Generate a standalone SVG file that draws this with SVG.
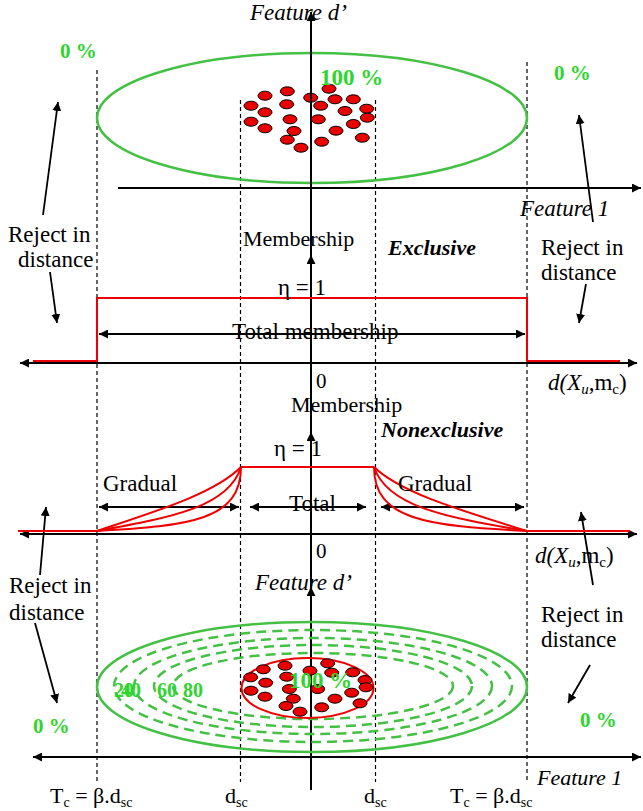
<svg xmlns="http://www.w3.org/2000/svg" width="643" height="811" viewBox="0 0 643 811">
<defs>
<marker id="ah" viewBox="0 0 10 10" refX="10" refY="5" markerWidth="9" markerHeight="9" markerUnits="userSpaceOnUse" orient="auto-start-reverse">
<path d="M0,0 L10,5 L0,10 z" fill="#000"/>
</marker>
<ellipse id="dot" rx="7" ry="4.5" fill="#e80000" stroke="#000" stroke-width="1"/>
</defs>
<style>
text{font-family:'Liberation Serif','DejaVu Serif',serif;fill:#000}
.it{font-style:italic}
.g{fill:#2ed52e;font-weight:bold}
.ax{stroke:#000;stroke-width:2;fill:none}
.ar{stroke:#000;stroke-width:1.8;fill:none}
.dash{stroke:#000;stroke-width:1.2;stroke-dasharray:4,3;fill:none}
.red{stroke:#ee0000;stroke-width:2;fill:none}
.gr{stroke:#44c044;stroke-width:2.5;fill:none}
.grd{stroke:#44c044;stroke-width:2.5;fill:none;stroke-dasharray:10,6}
</style>
<rect width="643" height="811" fill="#fff"/>

<g id="guides">
<line class="dash" x1="97" y1="70" x2="97" y2="783"/>
<line class="dash" x1="240.5" y1="100" x2="240.5" y2="782"/>
<line class="dash" x1="375.5" y1="100" x2="375.5" y2="782"/>
<line class="dash" x1="527" y1="62" x2="527" y2="783"/>
</g>

<g id="top-cluster">
<ellipse class="gr" cx="312" cy="118" rx="215" ry="65"/>
<g id="top-dots">
<use href="#dot" x="265" y="95.7"/><use href="#dot" x="287.3" y="91.3"/><use href="#dot" x="310.7" y="97.7"/><use href="#dot" x="329" y="88.7"/><use href="#dot" x="335" y="99.3"/><use href="#dot" x="353.3" y="99.3"/><use href="#dot" x="251" y="105.7"/><use href="#dot" x="265" y="112.3"/><use href="#dot" x="286.7" y="104.3"/><use href="#dot" x="320.7" y="105.7"/><use href="#dot" x="345" y="111"/><use href="#dot" x="366.7" y="108.7"/><use href="#dot" x="251" y="121.7"/><use href="#dot" x="265" y="128.3"/><use href="#dot" x="290" y="119.3"/><use href="#dot" x="318.3" y="119.3"/><use href="#dot" x="353.3" y="124"/><use href="#dot" x="367.3" y="117.7"/><use href="#dot" x="294" y="131"/><use href="#dot" x="336" y="130.7"/><use href="#dot" x="287.3" y="139.7"/><use href="#dot" x="321.7" y="141.7"/><use href="#dot" x="362.3" y="137.7"/><use href="#dot" x="301" y="147.7"/>
</g>
<text class="g" x="320" y="85" font-size="23">100 %</text>
<text class="g" x="60" y="58" font-size="21">0 %</text>
<text class="g" x="554" y="80" font-size="21">0 %</text>
</g>

<g id="connectors">
<line class="ax" x1="311" y1="790" x2="311" y2="587" marker-end="url(#ah)"/>
<line class="ax" x1="311" y1="587" x2="311" y2="432" marker-end="url(#ah)"/>
<line class="ax" x1="311" y1="432" x2="311" y2="255" marker-end="url(#ah)"/>
<line class="ax" x1="311" y1="255" x2="311" y2="12" marker-end="url(#ah)"/>
<line class="ax" x1="118" y1="188" x2="641" y2="188" marker-end="url(#ah)"/>
<line class="ax" x1="20" y1="363" x2="637" y2="363" marker-start="url(#ah)" marker-end="url(#ah)"/>
<line class="ax" x1="20" y1="534" x2="637" y2="534" marker-start="url(#ah)" marker-end="url(#ah)"/>
<line class="ax" x1="33" y1="757" x2="641" y2="757" marker-start="url(#ah)" marker-end="url(#ah)"/>
<line class="ar" x1="99" y1="334" x2="525" y2="334" marker-start="url(#ah)" marker-end="url(#ah)"/>
<line class="ar" x1="99" y1="507" x2="239" y2="507" marker-start="url(#ah)" marker-end="url(#ah)"/>
<line class="ar" x1="250" y1="507" x2="366" y2="507" marker-start="url(#ah)" marker-end="url(#ah)"/>
<line class="ar" x1="381" y1="507" x2="524" y2="507" marker-start="url(#ah)" marker-end="url(#ah)"/>
<line class="ar" x1="43" y1="215" x2="58" y2="102" marker-end="url(#ah)"/>
<line class="ar" x1="593" y1="222" x2="579" y2="115" marker-end="url(#ah)"/>
<line class="ar" x1="50" y1="272" x2="57" y2="323" marker-end="url(#ah)"/>
<line class="ar" x1="586" y1="284" x2="579" y2="323" marker-end="url(#ah)"/>
<line class="ar" x1="40" y1="575" x2="46" y2="507" marker-end="url(#ah)"/>
<line class="ar" x1="593" y1="585" x2="581" y2="512" marker-end="url(#ah)"/>
<line class="ar" x1="35" y1="623" x2="57" y2="703" marker-end="url(#ah)"/>
<line class="ar" x1="590" y1="665" x2="568" y2="703" marker-end="url(#ah)"/>
</g>

<g id="exclusive-curve">
<path class="red" d="M33,361 H97 V298 H527 V361 H620"/>
</g>

<g id="nonexclusive-curve">
<path class="red" d="M18,531 H97 M527,531 H630 M241,467 H374"/>
<path class="red" d="M97,531 C160,510 215,493 241,467"/>
<path class="red" d="M97,531 C175,517 229,506 241,467"/>
<path class="red" d="M97,531 C190,526 241,520 241,467"/>
<path class="red" d="M374,467 C401,493 460,510 527,531"/>
<path class="red" d="M374,467 C387,506 443,517 527,531"/>
<path class="red" d="M374,467 C374,520 427,526 527,531"/>
</g>

<g id="bottom-cluster">
<ellipse class="gr" cx="312" cy="687" rx="215" ry="65"/>
<ellipse class="grd" cx="313" cy="686" rx="199" ry="56"/>
<ellipse class="grd" cx="313" cy="686" rx="179" ry="48"/>
<ellipse class="grd" cx="313" cy="686" rx="159" ry="41"/>
<ellipse class="grd" cx="313" cy="686" rx="140" ry="33"/>
<ellipse class="red" cx="307.5" cy="688" rx="66" ry="30"/>
<g id="bottom-dots">
<use href="#dot" x="263.3" y="669.3"/><use href="#dot" x="285" y="665.7"/><use href="#dot" x="327.7" y="663.3"/><use href="#dot" x="250.7" y="677.3"/><use href="#dot" x="265.7" y="682.7"/><use href="#dot" x="286.7" y="676.7"/><use href="#dot" x="310" y="670.7"/><use href="#dot" x="331.7" y="672.7"/><use href="#dot" x="352.7" y="672.3"/><use href="#dot" x="365" y="680"/><use href="#dot" x="251" y="690.7"/><use href="#dot" x="265" y="696.7"/><use href="#dot" x="289.3" y="689"/><use href="#dot" x="317.7" y="689"/><use href="#dot" x="351.7" y="692.7"/><use href="#dot" x="366" y="687.3"/><use href="#dot" x="293.3" y="698.7"/><use href="#dot" x="335" y="698.7"/><use href="#dot" x="286" y="706"/><use href="#dot" x="321.7" y="707.3"/><use href="#dot" x="360" y="703.3"/><use href="#dot" x="300" y="711.7"/>
</g>
<text class="g" x="289" y="688" font-size="23">100 %</text>
<text class="g" x="114" y="697" font-size="20">20</text>
<text class="g" x="121" y="697" font-size="20">40</text>
<text class="g" x="157" y="697" font-size="20">60</text>
<text class="g" x="183" y="697" font-size="20">80</text>
<text class="g" x="33" y="733" font-size="21">0 %</text>
<text class="g" x="580" y="727" font-size="21">0 %</text>
</g>

<g id="labels">
<text class="it" x="250" y="20" font-size="23">Feature  d’</text>
<text class="it" x="520" y="216" font-size="23">Feature  1</text>
<text x="8" y="242" font-size="23">Reject in</text>
<text x="18" y="267" font-size="23">distance</text>
<text x="243" y="246" font-size="22">Membership</text>
<text class="it" x="388" y="255" font-size="22" font-weight="bold">Exclusive</text>
<text x="541" y="255" font-size="23">Reject in</text>
<text x="541" y="280" font-size="23">distance</text>
<text x="278" y="295" font-size="23">η = 1</text>
<text x="232" y="339" font-size="23">Total membership</text>
<text x="316" y="388" font-size="21">0</text>
<text x="548" y="390" font-size="23"><tspan font-style="italic">d(X</tspan><tspan font-size="15" dy="4" font-style="italic">u</tspan><tspan dy="-4">,m</tspan><tspan font-size="15" dy="4">c</tspan><tspan dy="-4">)</tspan></text>
<text x="291" y="412" font-size="22">Membership</text>
<text class="it" x="381" y="437" font-size="22" font-weight="bold">Nonexclusive</text>
<text x="274" y="456" font-size="23">η = 1</text>
<text x="103" y="491" font-size="23">Gradual</text>
<text x="398" y="491" font-size="23">Gradual</text>
<text x="289" y="511" font-size="23">Total</text>
<text x="316" y="558" font-size="21">0</text>
<text x="535" y="563" font-size="23"><tspan font-style="italic">d(X</tspan><tspan font-size="15" dy="4" font-style="italic">u</tspan><tspan dy="-4">,m</tspan><tspan font-size="15" dy="4">c</tspan><tspan dy="-4">)</tspan></text>
<text x="9" y="593" font-size="23">Reject in</text>
<text x="9" y="620" font-size="23">distance</text>
<text class="it" x="255" y="590" font-size="23">Feature  d’</text>
<text x="541" y="622" font-size="23">Reject in</text>
<text x="541" y="647" font-size="23">distance</text>
<text class="it" x="537" y="785" font-size="22">Feature  1</text>
<text x="50" y="803" font-size="22">T<tspan font-size="14" dy="4">c</tspan><tspan dy="-4"> = β.d</tspan><tspan font-size="14" dy="4">sc</tspan></text>
<text x="225" y="803" font-size="22">d<tspan font-size="14" dy="4">sc</tspan></text>
<text x="364" y="803" font-size="22">d<tspan font-size="14" dy="4">sc</tspan></text>
<text x="450" y="803" font-size="22">T<tspan font-size="14" dy="4">c</tspan><tspan dy="-4"> = β.d</tspan><tspan font-size="14" dy="4">sc</tspan></text>
</g>
</svg>
